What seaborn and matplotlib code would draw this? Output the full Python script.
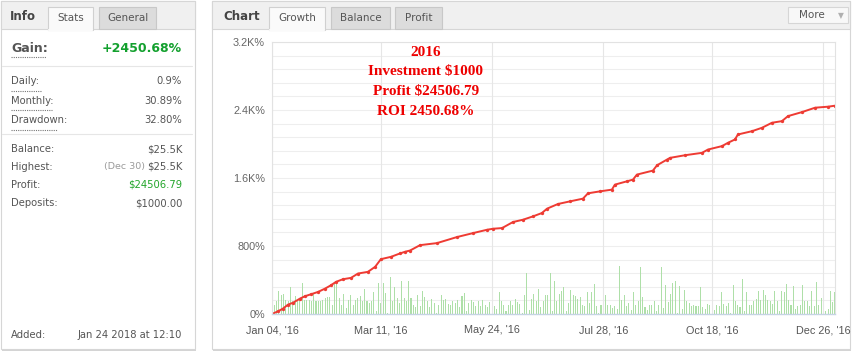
import numpy as np
import matplotlib
matplotlib.use("Agg")
import matplotlib.pyplot as plt
import seaborn as sns
from matplotlib.patches import Rectangle
from matplotlib.lines import Line2D

# daily green bars, one per trading day (heights read in screen px, 272 px = full plot)
daily_bars = [
    13, 9, 13, 23, 19, 20, 14, 13, 27, 13, 18, 13, 16, 31, 14, 14, 14, 13, 21, 13,
    13, 13, 14, 16, 17, 17, 9, 31, 30, 16, 9, 20, 6, 14, 19, 9, 14, 16, 18, 13,
    25, 13, 11, 13, 22, 3, 31, 11, 31, 21, 1, 37, 13, 27, 16, 11, 33, 16, 13, 33,
    16, 9, 7,
    19, 8, 23, 17, 13, 7, 15, 11, 1, 9, 19, 14, 15, 10, 9, 13, 11, 14, 7, 18,
    21, 3, 11, 14, 12, 8, 13, 8, 14, 9, 7, 12, 1, 8, 5, 22, 13, 9, 3, 9,
    13, 9, 15, 12, 10, 1, 19, 41, 4, 15, 20, 13, 25, 7, 13, 19, 19, 41, 3, 33,
    13, 20, 23, 27, 3, 11, 24, 19, 18, 15, 17, 9, 8, 22, 11, 22, 30, 8, 1, 9,
    9, 19, 9, 9, 6, 8, 5, 48, 14, 19, 8, 11, 4, 22, 9, 13, 47, 17, 7, 4,
    9, 9, 13, 3, 9, 47, 6, 29, 12, 20, 31, 33, 1, 28, 5, 24, 13, 11, 8, 9,
    8, 8, 27, 7, 5, 10, 9, 27, 4, 9, 8, 22, 10, 8, 11, 1, 29, 13, 9, 7,
    35, 3, 22, 9, 9, 13, 15, 23, 14, 24, 19, 14, 13, 10, 23, 13, 3, 23, 22, 30,
    14, 9, 28, 5, 8, 9, 29, 13, 13, 8, 23, 8, 32, 9, 16, 6, 3, 5, 23, 12, 22,
]

# growth curve (%), read at trading-day positions
growth_day = [0, 2.6, 4.7, 6.9, 9.1, 12, 14.2, 16.8, 19.9, 22.9, 25.5, 27.6, 30.6,
              34.1, 37.1, 41.4, 44.5, 47, 51.4, 55.2, 57.4, 59.6, 63.9, 71.2, 79.8,
              86.8, 92.8, 95.4, 99.3, 104, 108.3, 112.6, 116.5, 118.7, 123.4, 128.6,
              134.2, 136.4, 141.6, 146.7, 148, 153.2, 155.8, 157.5, 164.4, 166.2,
              170.5, 171.8, 178.3, 185.6, 188.2, 194.2, 196.8, 199.8, 201.1, 207.2,
              211.5, 215.8, 220.1, 222.7, 228.7, 234.4, 240, 243]
growth_pct = [0, 32, 63, 110, 133, 180, 209, 232, 260, 299, 339, 378, 409,
              425, 476, 496, 555, 645, 673, 712, 732, 747, 810, 834, 905,
              952, 991, 1003, 1011, 1082, 1109, 1148, 1188, 1239, 1294, 1325,
              1357, 1420, 1443, 1463, 1522, 1561, 1581, 1640, 1687, 1750,
              1817, 1837, 1868, 1896, 1935, 1975, 2014, 2053, 2112, 2151,
              2191, 2250, 2269, 2328, 2375, 2427, 2439, 2450.68]

y_ticks = [0, 800, 1600, 2400, 3200]
y_labels = ["0%", "800%", "1.6K%", "2.4K%", "3.2K%"]
x_ticks = [0, 47, 95, 143, 190, 238]
x_labels = ["Jan 04, '16", "Mar 11, '16", "May 24, '16", "Jul 28, '16",
            "Oct 18, '16", "Dec 26, '16"]

stats_rows = [("Daily:", "0.9%"), ("Monthly:", "30.89%"), ("Drawdown:", "32.80%")]
money_rows = [("Balance:", "$25.5K"), ("Highest:", "$25.5K"),
              ("Profit:", "$24506.79"), ("Deposits:", "$1000.00")]
note_lines = ["2016", "Investment $1000", "Profit $24506.79", "ROI 2450.68%"]

sns.set_style("white")
plt.rcParams["font.family"] = ["DejaVu Sans"]

W, H = 852, 352
fig = plt.figure(figsize=(W / 100, H / 100), dpi=100)
fig.patch.set_facecolor("white")


def fx(x):
    return x / W


def fy(y):
    return 1 - y / H


def box(x0, y0, x1, y1, fc, ec="none", lw=0.8, z=0):
    fig.add_artist(Rectangle((fx(x0), fy(y1)), fx(x1) - fx(x0), fy(y0) - fy(y1),
                             transform=fig.transFigure, facecolor=fc,
                             edgecolor=ec, linewidth=lw, zorder=z))


def hline(x0, x1, y, color, ls="-", lw=0.8):
    fig.add_artist(Line2D([fx(x0), fx(x1)], [fy(y), fy(y)], transform=fig.transFigure,
                          color=color, linestyle=ls, linewidth=lw))


def txt(x, y, s, **kw):
    fig.text(fx(x), fy(y), s, va="center", **kw)


def tab(x0, x1, label, active):
    if active:
        box(x0, 7, x1, 30, "#fafafa", "#d0d0d0")
        hline(x0 + 0.6, x1 - 0.6, 29.8, "#fafafa", lw=1.6)
    else:
        box(x0, 7, x1, 29, "#dcdcdc", "#c8c8c8")
    txt((x0 + x1) / 2, 18, label, fontsize=7.5, color="#555", ha="center")


# ---- panels ----
for x0, x1 in [(1, 195), (212, 850)]:
    box(x0 + 1, 3, x1 + 1, 351, "#d4d4d4")          # shadow
    box(x0, 1, x1, 349, "white", "#d6d6d6")
    box(x0, 1, x1, 29, "#f0f0f0", "#d6d6d6")

# left header
txt(10, 17, "Info", fontsize=8.5, fontweight="bold", color="#444")
tab(48, 93, "Stats", True)
tab(99, 156, "General", False)

# left stats
txt(11, 48, "Gain:", fontsize=9, fontweight="bold", color="#555")
hline(11, 46, 57, "#777", ls=(0, (1, 1)))
txt(182, 48, "+2450.68%", fontsize=9, fontweight="bold", color="#13a02e", ha="right")
hline(2, 192, 66, "#e6e6e6")
for i, (lab, val) in enumerate(stats_rows):
    y = 81 + i * 19.5
    txt(11, y, lab, fontsize=7.2, color="#555")
    hline(11, 11 + len(lab) * 5.1, y + 9.5, "#777", ls=(0, (1, 1)))
    txt(182, y, val, fontsize=7.2, color="#555", ha="right")
hline(2, 192, 134, "#e6e6e6")
for i, (lab, val) in enumerate(money_rows):
    y = 149 + i * 18
    txt(11, y, lab, fontsize=7.2, color="#555")
    txt(182, y, val, fontsize=7.2, ha="right",
        color="#22a52a" if lab == "Profit:" else "#555")
txt(145, 167, "(Dec 30)", fontsize=6.8, color="#9a9a9a", ha="right")
txt(11, 335, "Added:", fontsize=7.2, color="#555")
txt(182, 335, "Jan 24 2018 at 12:10", fontsize=7.2, color="#555", ha="right")

# right header
txt(223, 17, "Chart", fontsize=8.5, fontweight="bold", color="#444")
tab(269, 325, "Growth", True)
tab(331, 390, "Balance", False)
tab(395, 442, "Profit", False)
box(788, 7, 848, 23, "#f8f8f8", "#d6d6d6")
txt(812, 15.5, "More", fontsize=7.5, color="#555", ha="center")
txt(841, 15.5, "\u25bc", fontsize=5.5, color="#b0b0b0", ha="center")

# ---- chart ----
x0, x1, y0, y1 = 272, 835, 42, 314
ax = fig.add_axes([fx(x0), fy(y1), fx(x1) - fx(x0), fy(y0) - fy(y1)])
ax_bar = ax.twinx()

days = np.arange(len(daily_bars))
sns.barplot(x=days, y=daily_bars, ax=ax_bar, native_scale=True, color="#aedfa8",
            saturation=1, width=0.45, linewidth=0, errorbar=None)
for p in ax_bar.patches:
    p.set_antialiased(False)
ax_bar.set_ylim(0, y1 - y0)
ax_bar.set_yticks(np.linspace(0, y1 - y0, 21))
ax_bar.set_yticklabels([])
ax_bar.tick_params(length=0)
ax_bar.set_axisbelow(True)
ax_bar.grid(axis="y", color="#eeeeee", linewidth=0.8)
ax_bar.set_ylabel("")
for s in ax_bar.spines.values():
    s.set_visible(False)

sns.lineplot(x=growth_day, y=growth_pct, ax=ax, color="#ee3b33", linewidth=1.4,
             marker="o", markersize=2.4, markeredgewidth=0)
ax.set_zorder(ax_bar.get_zorder() + 1)
ax.patch.set_visible(False)
ax.set_xlim(0, len(daily_bars) - 1)
ax.set_ylim(0, 3200)
ax.set_yticks(y_ticks)
ax.set_yticklabels(y_labels, family="Liberation Sans")
ax.set_xticks(x_ticks)
ax.set_xticklabels(x_labels, family="Liberation Sans")
ax.tick_params(axis="y", length=0, pad=5, labelsize=7.8, labelcolor="#666")
ax.tick_params(axis="x", length=0, pad=8, labelsize=7.8, labelcolor="#555")
ax.grid(axis="x", color="#e6e6e6", linewidth=0.8)
ax.grid(axis="y", visible=False)
ax.set_xlabel("")
ax.set_ylabel("")
for side in ["left", "top", "right"]:
    ax.spines[side].set_color("#e2e2e2")
    ax.spines[side].set_linewidth(0.8)
ax.spines["bottom"].set_color("#c6d4e4")
ax.spines["bottom"].set_linewidth(1)

for i, line in enumerate(note_lines):
    txt(426, 52 + i * 20, line, fontsize=11, fontweight="bold", color="#ee0000",
        ha="center", family="Liberation Serif")

fig.savefig("out.png", dpi=100)
